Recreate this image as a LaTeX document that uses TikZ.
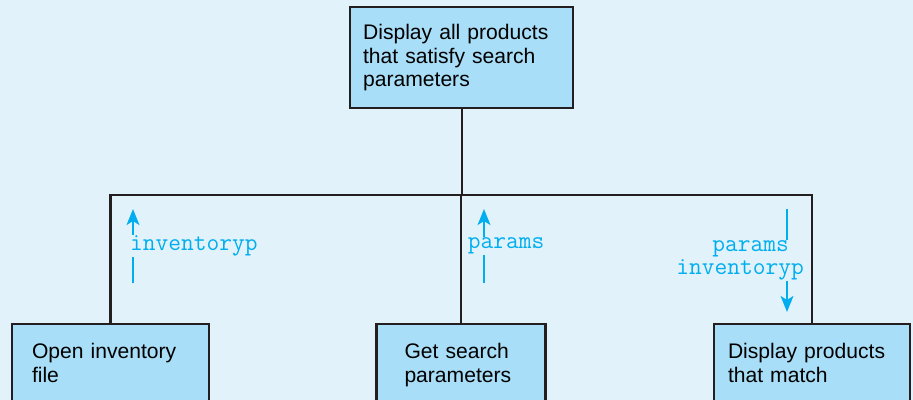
\documentclass[tikz,border=0pt]{standalone}
\usepackage{fontspec}
\setmainfont{Liberation Sans}
\usepackage{xcolor}
\usepackage{tikz}
\usetikzlibrary{positioning, arrows.meta, calc}

\definecolor{paleback}{HTML}{E1F2FB}
\definecolor{boxfill}{HTML}{A8DEF7}
\definecolor{flowcyan}{HTML}{00AEEF}
\definecolor{inkline}{HTML}{231F20}
\newlength{\px}
\setlength{\px}{0.025cm}

\begin{document}
\begin{tikzpicture}[
    x=0.025cm, y=-0.025cm,
    every node/.style={font=\fontsize{15}{17}\selectfont},
    modbox/.style={rectangle, draw=inkline, line width=1.6pt, fill=boxfill, align=left},
    treeline/.style={draw=inkline, line width=1.6pt},
    flow/.style={draw=flowcyan, line width=1.6pt, -{Stealth[length=0.4cm, width=0.32cm, inset=0.1cm]}},
    flowlabel/.style={text=flowcyan, fill=paleback, inner xsep=0pt, inner ysep=1\px,
        font=\ttfamily\fontsize{17.6}{16.4}\selectfont}
]
    \fill[paleback] (0,0) rectangle (913,400);
    \useasboundingbox (0,0) rectangle (913,400);
    \clip (0,0) rectangle (913,400);

    % modules
    \node[modbox, anchor=north west, text width=197\px, inner xsep=13\px, inner ysep=0pt,
        minimum height=101\px] (top) at (349,6)
        {Display all products\\that satisfy search\\parameters};
    \node[modbox, anchor=north, text width=157\px, inner xsep=20\px, inner ysep=19\px,
        text depth=40\px] (openfile) at (110.5,323) {Open inventory\\file};
    \node[modbox, anchor=north, text width=113\px, inner xsep=28\px, inner ysep=19\px,
        text depth=40\px] (getparams) at (461,323) {Get search\\parameters};
    \node[modbox, anchor=north, text width=168\px, inner xsep=14\px, inner ysep=19\px,
        text depth=40\px] (showmatch) at (812,323) {Display products\\that match};

    % tree
    \coordinate (bus) at ($(top.south)+(0,86)$);
    \draw[treeline] (top.south) -- (bus);
    \draw[treeline] (openfile.north) |- (bus) -| (showmatch.north);
    \draw[treeline] (getparams.north) -- (getparams.north |- bus);

    % data flows
    \coordinate (invfrom) at (133,283);
    \coordinate (invto)   at (133,209);
    \coordinate (parfrom) at (484,283);
    \coordinate (parto)   at (484,209);
    \coordinate (bothfrom) at (787,209);
    \coordinate (bothto)   at (787,312);

    \draw[flow] (invfrom) -- node[flowlabel, anchor=west, xshift=-0.1cm] {inventoryp} (invto);
    \draw[flow] (parfrom) -- node[flowlabel, anchor=west, xshift=-0.43cm] {params} (parto);
    \draw[flow] (bothfrom) -- node[flowlabel, anchor=east, xshift=0.45cm, align=left]
        {\hspace*{36\px}params\\inventoryp} (bothto);
\end{tikzpicture}
\end{document}
